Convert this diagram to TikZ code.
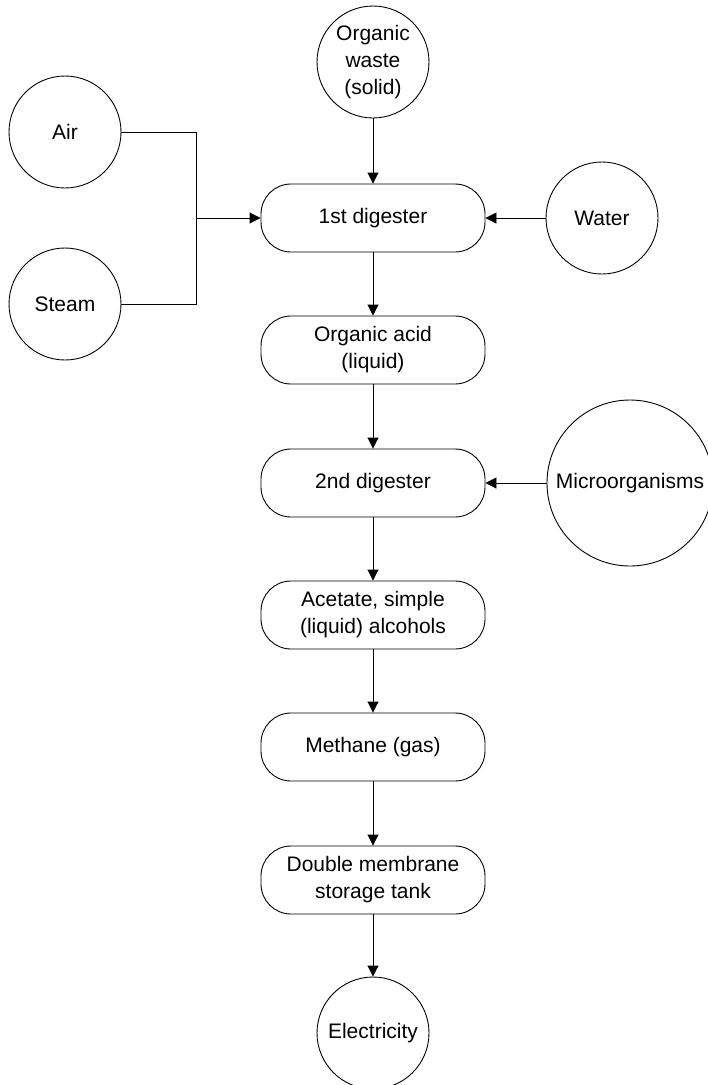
\documentclass[tikz,border=0pt]{standalone}
\usepackage{fontspec}
\setmainfont{Liberation Sans}
\usetikzlibrary{arrows.meta}

\begin{document}
\begin{tikzpicture}[x=1pt, y=1pt,
  every node/.style={font=\fontsize{21}{27}\selectfont, align=center},
  feed/.style={circle, draw, line width=0.9pt, minimum size=112pt, inner sep=0pt},
  stage/.style={draw, line width=0.9pt, rounded corners=30pt, minimum width=224pt, minimum height=68pt, inner sep=0pt},
  flow/.style={line width=0.9pt, -{Triangle[length=11pt,width=11pt]}}]
\useasboundingbox (0,0) rectangle (708,-1085);
% Inputs
\node[feed] (waste) at (373,-62) {Organic\\waste\\(solid)};
\node[feed] (air) at (65,-132) {Air};
\node[feed] (steam) at (65,-304) {Steam};
\node[feed] (water) at (602,-218) {Water};
\node[feed, minimum size=166pt] (micro) at (630,-483) {Microorganisms};
% Process chain
\node[stage] (dig1) at (373,-218) {1st digester};
\node[stage] (acid) at (373,-350) {Organic acid\\(liquid)};
\node[stage] (dig2) at (373,-483) {2nd digester};
\node[stage] (acet) at (373,-615) {Acetate, simple\\(liquid) alcohols};
\node[stage] (meth) at (373,-747) {Methane (gas)};
\node[stage] (tank) at (373,-880) {Double membrane\\storage tank};
\node[feed] (elec) at (373,-1033) {Electricity};
% Air and steam join
\coordinate (join) at (196,-218);
\draw[line width=0.9pt] (air.east) -| (join);
\draw[line width=0.9pt] (steam.east) -| (join);
\draw[flow] (join) -- (dig1.west);
% Arrows
\foreach \a/\b in {waste/dig1,dig1/acid,acid/dig2,dig2/acet,acet/meth,meth/tank,tank/elec}
  \draw[flow] (\a) -- (\b);
\draw[flow] (water) -- (dig1);
\draw[flow] (micro) -- (dig2);
\end{tikzpicture}
\end{document}
